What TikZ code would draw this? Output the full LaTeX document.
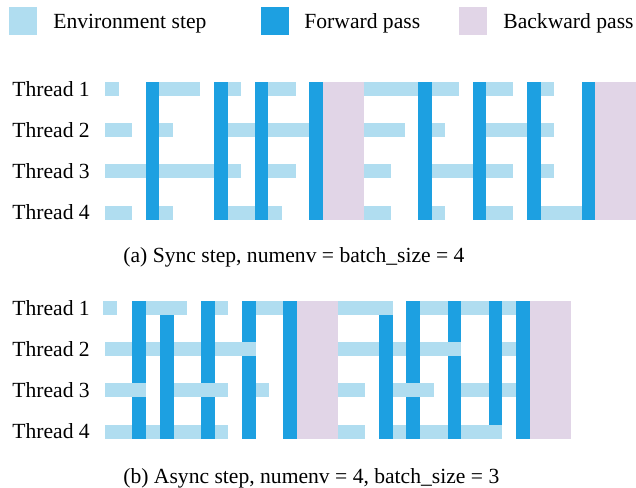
\documentclass[tikz,border=0pt]{standalone}
\usepackage{fontspec}
\setmainfont{Liberation Serif}
\definecolor{envcol}{HTML}{B0DDF0}
\definecolor{fwdcol}{HTML}{1DA0E1}
\definecolor{bwdcol}{HTML}{E1D5E7}
\tikzset{
  envbar/.style={fill=envcol},
  fwdbar/.style={fill=fwdcol},
  bwdbar/.style={fill=bwdcol},
  txt/.style={font=\fontsize{10.8}{13}\selectfont, inner sep=0pt}
}

\begin{document}
\begin{tikzpicture}[x=0.5pt,y=-0.5pt]
\useasboundingbox (0,0) rectangle (636,487);

% legend
\fill[envbar] (9,7) rectangle (37,35);
\node[txt, anchor=base west] (envlab) at (53,28) {Environment step};
\fill[fwdbar] (261,7) rectangle (289,35);
\node[txt, anchor=base west] (fwdlab) at (304,28) {Forward pass};
\fill[bwdbar] (459,7) rectangle (487,35);
\node[txt, anchor=base west] (bwdlab) at (503,28) {Backward pass};

% thread labels
\foreach \r in {1,...,4}{
  \node[txt, anchor=west] (syncthr\r) at (12,{89+(\r-1)*41.2}) {Thread \r};
  \node[txt, anchor=west] (asyncthr\r) at (12,{308+(\r-1)*41.2}) {Thread \r};
}

\coordinate (syncO) at (105,82);
\coordinate (asyncO) at (105,301);

% (a) sync step
\begin{scope}[shift={(syncO)}, x=6.8075pt, y=-20.6pt]
\foreach \c in {3,8,11,15,23,27,31,35}
  \fill[fwdbar] (\c,0) rectangle ++(1,3.34);
\foreach \c in {16,36}
  \fill[bwdbar] (\c,0) rectangle ++(3,3.34);
\foreach \r/\a/\b in {0/0/1,0/4/7,0/9/10,0/12/14,0/19/23,0/24/26,0/28/30,0/32/33,
                      1/0/2,1/4/5,1/9/11,1/12/15,1/19/22,1/24/25,1/28/31,1/32/33,
                      2/0/3,2/4/8,2/9/10,2/12/14,2/19/21,2/24/27,2/28/30,2/32/33,
                      3/0/2,3/4/5,3/9/11,3/12/13,3/19/21,3/24/25,3/28/30,3/32/35}
  \fill[envbar] (\a,\r) rectangle (\b,\r+0.34);
\end{scope}

% (b) async step
\begin{scope}[shift={(asyncO)}, x=6.85pt, y=-20.6pt]
\foreach \c in {2,4,7,10,13,20,22,25,28,30}
  \fill[fwdbar] (\c,0) rectangle ++(1,3.34);
\foreach \c in {14,31}
  \fill[bwdbar] (\c,0) rectangle ++(3,3.34);
\foreach \r/\a/\b in {0/-0.15/0.85,0/3/6,0/8/9,0/11/13,0/17/21,0/23/25,0/26/28,0/29/30,
                      1/0/2,1/3/4,1/5/7,1/8/11,1/17/20,1/21/22,1/23/26,1/29/30,
                      2/0/3,2/5/9,2/11/12,2/17/19,2/21/24,2/26/28,2/29/30,
                      3/0/2,3/3/4,3/5/7,3/8/9,3/17/19,3/21/22,3/23/25,3/26/29}
  \fill[envbar] (\a,\r) rectangle (\b,\r+0.34);
\end{scope}

% captions
\node[txt, anchor=base west] (synccap) at (123,262) {(a) Sync step, numenv = batch\_size = 4};
\node[txt, anchor=base west] (asynccap) at (123,483) {(b) Async step, numenv = 4, batch\_size = 3};
\end{tikzpicture}
\end{document}
